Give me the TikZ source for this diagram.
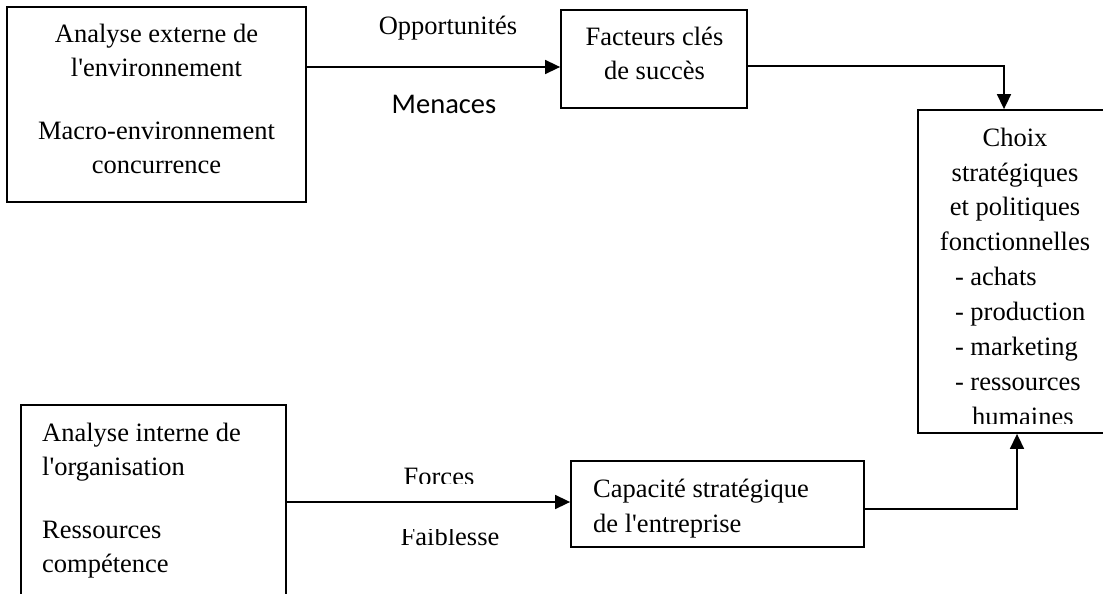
\documentclass[tikz,border=0pt]{standalone}
\usepackage{fontspec}
\setmainfont{Liberation Serif}
\newfontfamily\menacesfont{Carlito}
\usetikzlibrary{arrows.meta}
\tikzset{
  cadre/.style={draw=black, line width=1.8pt, inner sep=0pt},
  texte/.style={font=\fontsize{26.5}{34}\selectfont, inner sep=0pt},
  fleche/.style={-{Triangle[length=15pt, width=14pt]}, line width=1.6pt}
}

\begin{document}
\begin{tikzpicture}[x=1pt, y=-1pt]
  \useasboundingbox (0,0) rectangle (1103,594);
  \clip (0,0) rectangle (1103,594);
  % cadres
  \node[cadre, minimum width=299pt, minimum height=195pt] (ext) at (156.5,104.5) {};
  \node[cadre, minimum width=186pt, minimum height=98pt] (fac) at (654,59) {};
  \node[cadre, minimum width=188pt, minimum height=323pt] (cho) at (1012,271.5) {};
  \node[cadre, minimum width=265pt, minimum height=215pt] (int) at (153.5,512.5) {};
  \node[cadre, minimum width=293pt, minimum height=86pt] (cap) at (717.5,504) {};
  % textes des cadres (ancre base = derniere ligne)
  \node[texte, anchor=base, align=center] (extT) at (156.5,173)
    {Analyse externe de\\l\textquotesingle environnement\\[29pt]Macro-environnement\\concurrence};
  \node[texte, anchor=base, align=center, font=\fontsize{26.5}{35}\selectfont] (facT) at (654.5,80)
    {Facteurs clés\\de succès};
  \begin{scope}
    \clip (918,110) rectangle (1106,423);
    \node[texte, anchor=base, align=center, font=\fontsize{26.5}{34.85}\selectfont] (choT) at (1015,425)
      {Choix\\stratégiques\\et politiques\\fonctionnelles\\
       \makebox[120pt][l]{- achats}\\\makebox[120pt][l]{- production}\\
       \makebox[120pt][l]{- marketing}\\\makebox[120pt][l]{- ressources}\\
       \makebox[120pt][l]{\hspace*{17pt}humaines}};
  \end{scope}
  \node[texte, anchor=base west, align=left] (intT) at (42,572)
    {Analyse interne de\\l\textquotesingle organisation\\[29pt]Ressources\\compétence};
  \node[texte, anchor=base west, align=left, font=\fontsize{26.5}{35}\selectfont] (capT) at (593,532)
    {Capacité stratégique\\de l\textquotesingle entreprise};
  % etiquettes
  \node[texte, anchor=base] (opp) at (448,35) {Opportunités};
  \node[texte, anchor=base, font=\menacesfont\fontsize{28.5}{34}\selectfont] (men) at (444,113) {Menaces};
  \begin{scope}
    \clip (380,440) rectangle (520,483.5);
    \node[texte, anchor=base] (for) at (439,485.5) {Forces};
  \end{scope}
  \begin{scope}
    \clip (380,529) rectangle (520,580);
    \node[texte, anchor=base] (fai) at (450,545) {Faiblesse};
  \end{scope}
  % fleches
  \draw[fleche] (ext.east |- 0,67) -- (fac.west |- 0,67);
  \draw[fleche] (fac.east |- 0,66) -| (1004,0 |- cho.north);
  \draw[fleche] (int.east |- 0,502) -- (cap.west |- 0,502);
  \draw[fleche] (cap.east |- 0,509) -| (1017,0 |- cho.south);
\end{tikzpicture}
\end{document}
